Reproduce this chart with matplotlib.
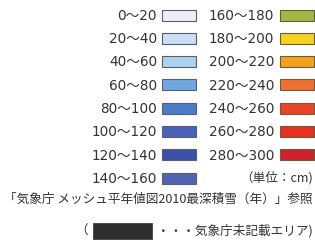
import matplotlib
matplotlib.use('Agg')
import matplotlib.pyplot as plt
from matplotlib.patches import Rectangle

plt.rcParams['font.family'] = ['Noto Sans CJK JP', 'DejaVu Sans']

# 凡例データ（最深積雪 cm）
left_labels = ['0〜20', '20〜40', '40〜60', '60〜80',
               '80〜100', '100〜120', '120〜140', '140〜160']
left_colors = ['#EEEEF8', '#C9E0F4', '#A9D3F1', '#6FA9E0',
               '#4C7DCB', '#4A63B8', '#3E51A8', '#5064B2']
right_labels = ['160〜180', '180〜200', '200〜220', '220〜240',
                '240〜260', '260〜280', '280〜300']
right_colors = ['#A5B845', '#F4D21F', '#F5A11F', '#EE7131',
                '#E8452A', '#E83121', '#D0212F']
unit_text = '（単位：cm)'
source_text = '「気象庁 メッシュ平年値図2010最深積雪（年）」参照'
note_text = '・・・気象庁未記載エリア)'

TEXT = '#333333'
W, H = 315, 241

fig = plt.figure(figsize=(W / 100, H / 100), dpi=100)
ax = fig.add_axes([0, 0, 1, 1])
ax.set_xlim(0, W)
ax.set_ylim(H, 0)
ax.axis('off')

y0, dy = 15, 23.3
sw_w, sw_h = 34, 11
num_font = ['DejaVu Sans', 'Noto Sans CJK JP']


def draw_column(labels, colors, x_text, x_box, edge):
    for i, (lab, col) in enumerate(zip(labels, colors)):
        yc = y0 + dy * i
        ax.text(x_text, yc + 4.7, lab, ha='right', va='baseline',
                fontsize=9.8, color=TEXT, family=num_font)
        ax.add_patch(Rectangle((x_box, yc - sw_h / 2), sw_w, sw_h,
                               facecolor=col, edgecolor=edge, lw=0.8))


draw_column(left_labels, left_colors, 157, 162, '#5c5c6c')
draw_column(right_labels, right_colors, 274, 280, '#6b5c3e')

ax.text(313, y0 + dy * 7, unit_text, ha='right', va='center',
        fontsize=9.1, color=TEXT)
ax.text(313, 199, source_text, ha='right', va='center',
        fontsize=9.1, color=TEXT)

# 未記載エリアの凡例
ax.text(88, 231, '（', ha='right', va='center', fontsize=9.1, color=TEXT)
ax.add_patch(Rectangle((93, 223), 59, 16, facecolor='#2e2e2e',
                       edgecolor='#2e2e2e', lw=0.5))
ax.text(313, 231, note_text, ha='right', va='center',
        fontsize=9.1, color=TEXT)

fig.savefig('out.png', dpi=100, facecolor='white')
